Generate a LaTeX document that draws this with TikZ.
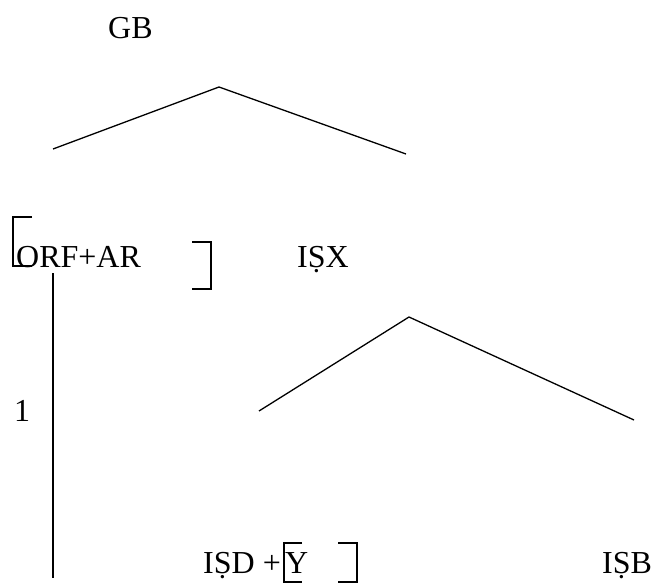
\documentclass[tikz,border=0pt]{standalone}
\usepackage{fontspec}
\setmainfont{Liberation Serif}
\usepackage{tikz}
\usetikzlibrary{positioning}

\tikzset{
  lbl/.style={anchor=base west, inner sep=0pt, font=\fontsize{32}{38}\selectfont},
  branch/.style={line width=1.3pt},
  brack/.style={line width=2pt}
}

\begin{document}
\begin{tikzpicture}[x=1pt,y=-1pt]
        \useasboundingbox (0,0) rectangle (652,583);
        % Labels
        \node[lbl] (gb) at (108,39) {GB};
        \node[lbl] (orf) at (16,267) {ORF+AR};
        \node[lbl] (isx) at (297,267) {IṢX};
        \node[lbl] (one) at (14,421) {1};
        \node[lbl] (isd) at (203,573) {IṢD +};
        \node[lbl] (y) at (285,573) {Y};
        \node[lbl] (isb) at (602,573) {IṢB};
        % Tree points
        \coordinate (gbtop) at (219,87);
        \coordinate (gbl) at (53,149);
        \coordinate (gbr) at (406,154);
        \coordinate (isxtop) at (409,317);
        \coordinate (isxl) at (259,411);
        \coordinate (isxr) at (634,420);
        \coordinate (vtop) at (53,273);
        \coordinate (vbot) at (53,578);
        % Branches
        \draw[branch] (gbl) -- (gbtop) -- (gbr);
        \draw[branch] (isxl) -- (isxtop) -- (isxr);
        \draw[branch] (vtop) -- (vbot);
        % Brackets
        \draw[brack] (32,217) -- (13,217) -- (13,266) -- (32,266);
        \draw[brack] (192,242) -- (211,242) -- (211,289) -- (192,289);
        \draw[brack] (302,543) -- (284,543) -- (284,582) -- (302,582);
        \draw[brack] (338,543) -- (357,543) -- (357,582) -- (338,582);
\end{tikzpicture}
\end{document}
